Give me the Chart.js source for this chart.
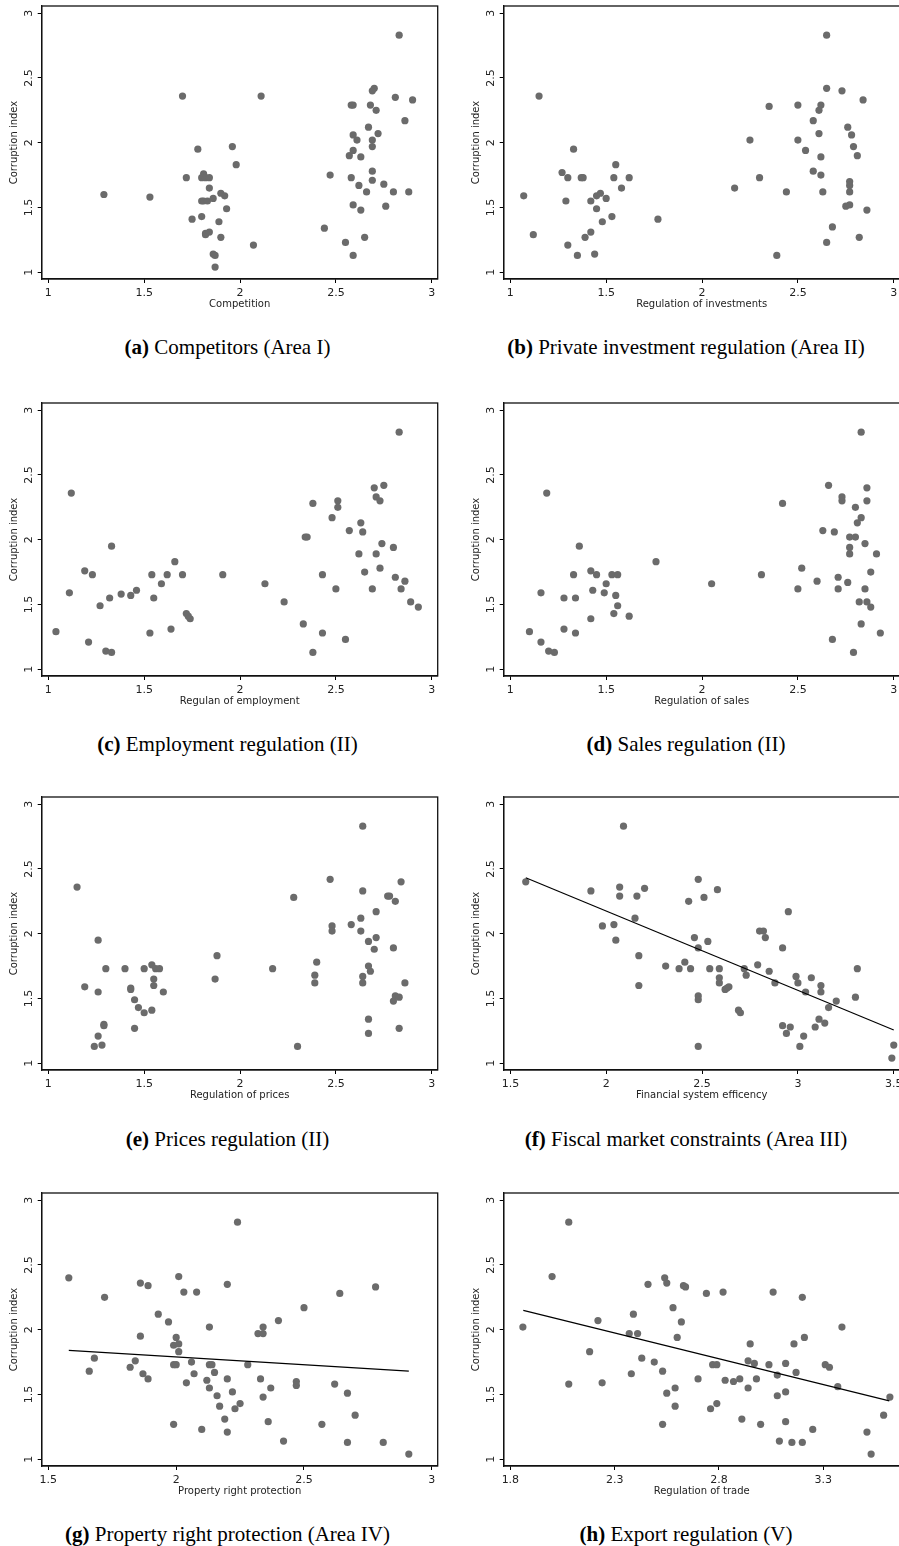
<!DOCTYPE html>
<html>
<head>
<meta charset="utf-8">
<script src="https://cdn.jsdelivr.net/npm/chart.js@4.4.1/dist/chart.umd.min.js"></script>
<style>
  body { margin: 0; width: 899px; height: 1546px; overflow: hidden; background: #fff; position: relative; }
  .panel { position: absolute; }
  .cap { position: absolute; width: 460px; text-align: center; line-height: 24px;
         font-family: "Liberation Serif", "Times New Roman", serif; font-size: 21px; color: #000; white-space: nowrap; }
</style>
</head>
<body>
<script>
// y axis is the same everywhere
const yTicks = [1, 1.5, 2, 2.5, 3];

// (a) competition
const compX = [1.29,1.53,1.70,1.72,1.75,1.78,1.80,1.81,1.80,1.82,1.84,1.84,1.80,1.81,1.83,1.86,1.90,1.92,1.93,1.89,1.82,1.82,1.84,1.90,1.86,1.87,1.87,1.96,1.98,2.11,2.07,2.44,2.47,2.55,2.57,2.58,2.58,2.59,2.59,2.59,2.59,2.59,2.61,2.62,2.63,2.63,2.65,2.66,2.67,2.68,2.69,2.69,2.69,2.69,2.70,2.69,2.71,2.72,2.75,2.76,2.80,2.81,2.83,2.86,2.88,2.90];
const compY = [1.60,1.58,2.36,1.73,1.41,1.95,1.43,1.76,1.73,1.73,1.73,1.65,1.55,1.55,1.55,1.57,1.61,1.59,1.49,1.39,1.30,1.29,1.31,1.27,1.14,1.13,1.04,1.97,1.83,2.36,1.21,1.34,1.75,1.23,1.90,1.73,2.29,2.29,2.06,1.94,1.52,1.13,2.02,1.67,1.89,1.48,1.27,1.62,2.12,2.29,1.78,1.71,2.02,1.97,2.42,2.40,2.25,2.07,1.68,1.51,1.62,2.35,2.83,2.17,1.62,2.33];

// (b) investments
const invX = [1.07,1.12,1.15,1.27,1.30,1.33,1.29,1.30,1.35,1.37,1.38,1.39,1.42,1.42,1.44,1.45,1.45,1.47,1.48,1.50,1.53,1.54,1.55,1.58,1.62,1.77,2.17,2.25,2.30,2.35,2.39,2.44,2.50,2.50,2.54,2.58,2.58,2.61,2.61,2.62,2.62,2.62,2.63,2.65,2.65,2.65,2.68,2.73,2.76,2.77,2.77,2.77,2.75,2.77,2.78,2.79,2.81,2.82,2.84,2.86];
const invY = [1.59,1.29,2.36,1.77,1.73,1.95,1.55,1.21,1.13,1.73,1.73,1.27,1.55,1.31,1.14,1.59,1.49,1.61,1.39,1.57,1.43,1.73,1.83,1.65,1.73,1.41,1.65,2.02,1.73,2.28,1.13,1.62,2.29,2.02,1.94,1.78,2.17,2.07,2.25,2.29,1.89,1.75,1.62,2.42,2.83,1.23,1.35,2.40,2.12,1.70,1.67,1.62,1.51,1.52,2.06,1.97,1.90,1.27,2.33,1.48];

// (c) employment
const empX = [1.04,1.11,1.12,1.19,1.21,1.23,1.27,1.30,1.33,1.33,1.32,1.38,1.43,1.46,1.53,1.54,1.55,1.59,1.62,1.64,1.66,1.70,1.72,1.73,1.74,1.91,2.13,2.23,2.33,2.34,2.35,2.38,2.38,2.43,2.43,2.48,2.50,2.51,2.51,2.55,2.57,2.62,2.63,2.64,2.65,2.69,2.70,2.71,2.71,2.73,2.73,2.74,2.75,2.80,2.81,2.83,2.84,2.86,2.89,2.93];
const empY = [1.29,1.59,2.36,1.76,1.21,1.73,1.49,1.14,1.13,1.95,1.55,1.58,1.57,1.61,1.28,1.73,1.55,1.66,1.73,1.31,1.83,1.73,1.43,1.41,1.39,1.73,1.66,1.52,1.35,2.02,2.02,2.28,1.13,1.28,1.73,2.17,1.62,2.30,2.25,1.23,2.07,1.89,2.13,2.06,1.75,1.62,2.40,2.33,1.89,2.30,1.78,1.97,2.42,1.94,1.71,2.83,1.62,1.68,1.52,1.48];

// (d) sales
const salX = [1.10,1.16,1.16,1.19,1.20,1.23,1.28,1.28,1.33,1.34,1.34,1.36,1.42,1.42,1.43,1.45,1.49,1.50,1.53,1.54,1.55,1.56,1.56,1.62,1.76,2.05,2.31,2.42,2.50,2.52,2.60,2.63,2.66,2.68,2.69,2.71,2.71,2.73,2.73,2.76,2.77,2.77,2.77,2.79,2.80,2.80,2.81,2.82,2.83,2.83,2.83,2.85,2.85,2.86,2.86,2.86,2.88,2.88,2.91,2.93];
const salY = [1.29,1.21,1.59,2.36,1.14,1.13,1.31,1.55,1.73,1.28,1.55,1.95,1.76,1.39,1.61,1.73,1.59,1.66,1.73,1.43,1.57,1.73,1.49,1.41,1.83,1.66,1.73,2.28,1.62,1.78,1.68,2.07,2.42,1.23,2.06,1.71,1.62,2.30,2.33,1.67,2.02,1.94,1.89,1.13,2.25,2.02,2.13,1.52,2.17,2.83,1.35,1.62,1.97,2.40,1.52,2.30,1.48,1.75,1.89,1.28];

// (e) prices
const priX = [1.15,1.19,1.24,1.26,1.26,1.26,1.28,1.29,1.29,1.30,1.40,1.43,1.43,1.45,1.45,1.47,1.50,1.50,1.54,1.54,1.55,1.55,1.56,1.58,1.60,1.87,1.88,2.17,2.28,2.30,2.39,2.39,2.40,2.47,2.48,2.48,2.58,2.63,2.63,2.64,2.64,2.64,2.64,2.67,2.67,2.67,2.67,2.68,2.70,2.71,2.71,2.77,2.78,2.80,2.80,2.81,2.81,2.83,2.83,2.84,2.86];
const priY = [2.36,1.59,1.13,1.21,1.95,1.55,1.14,1.30,1.29,1.73,1.73,1.57,1.58,1.27,1.49,1.43,1.73,1.39,1.76,1.41,1.65,1.60,1.73,1.73,1.55,1.65,1.83,1.73,2.28,1.13,1.68,1.62,1.78,2.42,2.06,2.02,2.07,2.12,2.02,2.83,2.33,1.67,1.62,1.34,1.23,1.94,1.75,1.71,1.88,1.97,2.17,2.29,2.29,1.48,1.89,2.25,1.52,1.51,1.27,2.40,1.62];

// (f) financial system
const finX = [1.58,1.92,1.98,2.04,2.05,2.07,2.07,2.09,2.15,2.16,2.17,2.17,2.20,2.31,2.38,2.41,2.43,2.44,2.46,2.48,2.48,2.48,2.48,2.48,2.51,2.53,2.54,2.58,2.59,2.59,2.59,2.62,2.63,2.64,2.69,2.70,2.72,2.73,2.79,2.80,2.82,2.83,2.85,2.88,2.92,2.92,2.94,2.95,2.96,2.99,3.00,3.01,3.03,3.04,3.07,3.09,3.11,3.12,3.12,3.14,3.16,3.20,3.30,3.31,3.49,3.50];
const finY = [2.40,2.33,2.06,2.07,1.95,2.36,2.29,2.83,2.12,2.29,1.83,1.60,2.35,1.75,1.73,1.78,2.25,1.73,1.97,2.42,1.89,1.52,1.49,1.13,2.28,1.94,1.73,2.34,1.73,1.66,1.62,1.57,1.58,1.59,1.41,1.39,1.73,1.68,1.76,2.02,2.02,1.97,1.71,1.62,1.89,1.29,1.23,2.17,1.28,1.67,1.62,1.13,1.21,1.55,1.66,1.28,1.34,1.60,1.55,1.31,1.43,1.48,1.51,1.73,1.04,1.14];
const finFitX = [1.58, 3.50];
const finFitY = [2.432, 1.257];

// (g) property rights
const proX = [1.58,1.66,1.68,1.72,1.82,1.84,1.86,1.86,1.87,1.89,1.89,1.93,1.97,1.99,1.99,1.99,2.00,2.00,2.01,2.01,2.01,2.03,2.04,2.06,2.07,2.08,2.10,2.12,2.13,2.13,2.13,2.14,2.15,2.16,2.17,2.19,2.20,2.20,2.20,2.22,2.23,2.24,2.25,2.28,2.32,2.33,2.34,2.34,2.34,2.36,2.37,2.40,2.42,2.47,2.47,2.50,2.57,2.62,2.64,2.67,2.67,2.70,2.78,2.81,2.91];
const proY = [2.40,1.68,1.78,2.25,1.71,1.76,1.95,2.36,1.66,1.62,2.34,2.12,2.06,1.88,1.27,1.73,1.73,1.94,2.41,1.89,1.83,2.29,1.59,1.75,1.66,2.29,1.23,1.61,1.73,1.55,2.02,1.73,1.67,1.49,1.41,1.31,2.35,1.62,1.21,1.52,1.39,2.83,1.43,1.73,1.97,1.62,2.02,1.97,1.48,1.29,1.55,2.07,1.14,1.60,1.57,2.17,1.27,1.58,2.28,1.13,1.51,1.34,2.33,1.13,1.04];
const proFitX = [1.58, 2.91];
const proFitY = [1.841, 1.681];

// (h) trade
const traX = [1.86,2.00,2.08,2.08,2.18,2.22,2.24,2.37,2.38,2.39,2.41,2.43,2.46,2.49,2.53,2.53,2.54,2.55,2.55,2.58,2.59,2.59,2.60,2.62,2.63,2.64,2.70,2.74,2.76,2.77,2.79,2.79,2.82,2.83,2.87,2.90,2.91,2.94,2.94,2.95,2.97,2.98,3.00,3.04,3.06,3.08,3.08,3.09,3.12,3.12,3.12,3.15,3.16,3.17,3.20,3.20,3.21,3.25,3.31,3.33,3.37,3.39,3.51,3.53,3.59,3.62];
const traY = [2.02,2.41,2.83,1.58,1.83,2.07,1.59,1.97,1.66,2.12,1.97,1.78,2.35,1.75,1.68,1.27,2.40,1.51,2.36,2.17,1.41,1.55,1.94,2.06,2.34,2.33,1.62,2.28,1.39,1.73,1.73,1.43,2.29,1.61,1.60,1.62,1.31,1.76,1.55,1.89,1.74,1.62,1.27,1.73,2.29,1.49,1.65,1.14,1.74,1.52,1.29,1.13,1.89,1.67,1.13,2.25,1.94,1.23,1.73,1.71,1.56,2.02,1.21,1.04,1.34,1.48];
const traFitX = [1.862, 3.617];
const traFitY = [2.149, 1.450];

const ticks1to3 = [1, 1.5, 2, 2.5, 3];

const panels = [
  { tag: '(a)', cap: 'Competitors (Area I)', xTitle: 'Competition', xs: compX, ys: compY, xTicks: ticks1to3, xMin: 0.9656, xMax: 3.031, col: 0, row: 0 },
  { tag: '(b)', cap: 'Private investment regulation (Area II)', xTitle: 'Regulation of investments', xs: invX, ys: invY, xTicks: ticks1to3, xMin: 0.9656, xMax: 3.031, col: 1, row: 0 },
  { tag: '(c)', cap: 'Employment regulation (II)', xTitle: 'Regulan of employment', xs: empX, ys: empY, xTicks: ticks1to3, xMin: 0.9656, xMax: 3.031, col: 0, row: 1 },
  { tag: '(d)', cap: 'Sales regulation (II)', xTitle: 'Regulation of sales', xs: salX, ys: salY, xTicks: ticks1to3, xMin: 0.9656, xMax: 3.031, col: 1, row: 1 },
  { tag: '(e)', cap: 'Prices regulation (II)', xTitle: 'Regulation of prices', xs: priX, ys: priY, xTicks: ticks1to3, xMin: 0.9656, xMax: 3.031, col: 0, row: 2 },
  { tag: '(f)', cap: 'Fiscal market constraints (Area III)', xTitle: 'Financial system efficency', xs: finX, ys: finY, fitX: finFitX, fitY: finFitY, xTicks: [1.5, 2, 2.5, 3, 3.5], xMin: 1.465, xMax: 3.531, col: 1, row: 2 },
  { tag: '(g)', cap: 'Property right protection (Area IV)', xTitle: 'Property right protection', xs: proX, ys: proY, fitX: proFitX, fitY: proFitY, xTicks: [1.5, 2, 2.5, 3], xMin: 1.474, xMax: 3.023, col: 0, row: 3 },
  { tag: '(h)', cap: 'Export regulation (V)', xTitle: 'Regulation of trade', xs: traX, ys: traY, fitX: traFitX, fitY: traFitY, xTicks: [1.8, 2.3, 2.8, 3.3], xMin: 1.768, xMax: 3.667, col: 1, row: 3 }
];

// plot frame top per row, canvas offset per column, caption centres
const rowTop = [5.7, 402.7, 797.3, 1193.3];
const colLeft = [0, 461.6];
const capX = [227.5, 686];
const capY = [347, 744, 1139, 1534];

const tickFont = { family: 'DejaVu Sans', size: 11 };
const titleFont = { family: 'DejaVu Sans', size: 10 };
const ink = '#222';

const framePlugin = {
  id: 'frame',
  afterDatasetsDraw(chart) {
    const { ctx, chartArea: a } = chart;
    ctx.save();
    ctx.strokeStyle = '#111';
    ctx.lineWidth = 1.3;
    ctx.strokeRect(a.left, a.top, a.right - a.left, a.bottom - a.top);
    ctx.restore();
  }
};

panels.forEach(function (p) {
  const wrap = document.createElement('div');
  wrap.className = 'panel';
  wrap.style.left = colLeft[p.col] + 'px';
  wrap.style.top = (rowTop[p.row] - 10) + 'px';
  const canvas = document.createElement('canvas');
  canvas.width = 460;
  canvas.height = 320;
  wrap.appendChild(canvas);
  document.body.appendChild(wrap);

  const datasets = [{
    data: p.xs.map((x, i) => ({ x: x, y: p.ys[i] })),
    pointRadius: 3.6,
    pointHoverRadius: 3.6,
    pointBackgroundColor: '#6b6b6b',
    pointBorderWidth: 0,
    order: 1
  }];
  if (p.fitX) {
    datasets.push({
      data: p.fitX.map((x, i) => ({ x: x, y: p.fitY[i] })),
      showLine: true,
      borderColor: '#000',
      borderWidth: 1.2,
      pointRadius: 0,
      fill: false,
      order: 0
    });
  }

  new Chart(canvas, {
    type: 'scatter',
    data: { datasets: datasets },
    options: {
      responsive: false,
      animation: false,
      events: [],
      layout: { padding: { top: 10, left: 0, right: 22.3, bottom: 6 } },
      plugins: { legend: { display: false }, tooltip: { enabled: false } },
      scales: {
        x: {
          type: 'linear',
          min: p.xMin,
          max: p.xMax,
          afterBuildTicks: s => { s.ticks = p.xTicks.map(v => ({ value: v })); },
          afterFit: s => { s.height = 31; },
          grid: { display: true, drawOnChartArea: false, drawTicks: true, tickLength: 4, color: '#000', lineWidth: 1 },
          border: { display: true, color: '#111', width: 1.3 },
          ticks: { callback: v => String(v), font: tickFont, color: ink, padding: 4, maxRotation: 0, autoSkip: false },
          title: { display: true, text: p.xTitle, font: titleFont, color: ink, padding: 0 }
        },
        y: {
          type: 'linear',
          min: 0.948,
          max: 3.055,
          afterBuildTicks: s => { s.ticks = yTicks.map(v => ({ value: v })); },
          afterFit: s => { s.width = 41.7; },
          grid: { display: true, drawOnChartArea: false, drawTicks: true, tickLength: 4, color: '#000', lineWidth: 1 },
          border: { display: true, color: '#111', width: 1.3 },
          ticks: { callback: v => String(v), font: tickFont, color: ink, padding: 0, minRotation: 90, maxRotation: 90, crossAlign: 'center', autoSkip: false },
          title: { display: true, text: 'Corruption index', font: titleFont, color: ink, padding: { top: 8, bottom: 0 } }
        }
      }
    },
    plugins: [framePlugin]
  });

  const cap = document.createElement('div');
  cap.className = 'cap';
  cap.style.left = (capX[p.col] - 230) + 'px';
  cap.style.top = (capY[p.row] - 12) + 'px';
  cap.innerHTML = '<b>' + p.tag + '</b> ' + p.cap;
  document.body.appendChild(cap);
});
</script>
</body>
</html>
